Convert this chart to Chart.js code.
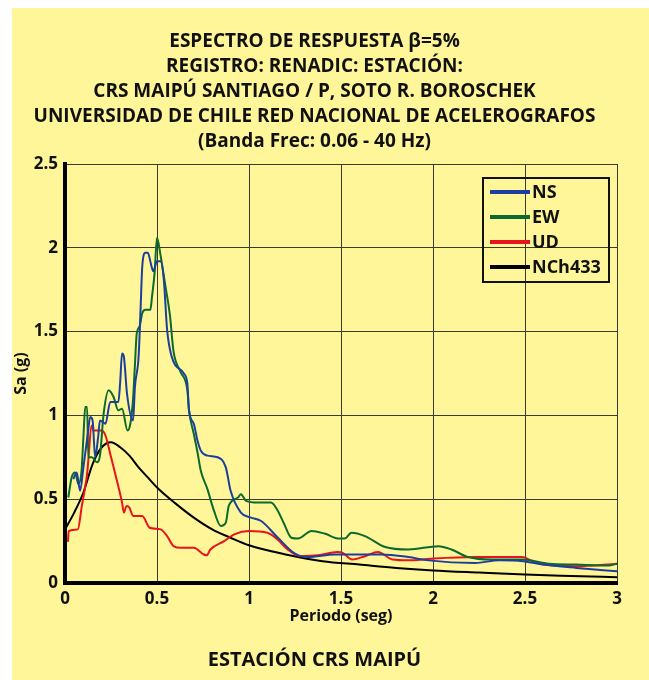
<!DOCTYPE html>
<html>
<head>
<meta charset="utf-8">
<script src="https://cdn.jsdelivr.net/npm/chart.js@4.4.1/dist/chart.umd.min.js"></script>
<style>
  html, body { margin: 0; padding: 0; background: #ffffff; }
  #wrap { width: 649px; height: 680px; }
</style>
</head>
<body>
<div id="wrap"><canvas id="espectro" width="649" height="680"></canvas></div>
<script>
// Periodos (seg) y aceleraciones espectrales Sa (g)
const nsT  = [0.045, 0.064, 0.082, 0.10, 0.125, 0.137, 0.15, 0.164, 0.18, 0.19, 0.22, 0.246, 0.29, 0.30, 0.31, 0.32, 0.337, 0.37, 0.38, 0.40, 0.41, 0.42, 0.437, 0.45, 0.47, 0.48, 0.50, 0.52, 0.537, 0.555, 0.58, 0.646, 0.665, 0.674, 0.70, 0.72, 0.738, 0.774, 0.83, 0.874, 0.90, 0.956, 1.01, 1.066, 1.157, 1.25, 1.32, 1.466, 1.61, 1.72, 1.866, 1.975, 2.23, 2.36, 2.49, 2.6, 2.78, 3.0];
const nsSa = [0.62, 0.66, 0.55, 0.69, 0.90, 0.99, 0.97, 0.75, 0.87, 0.97, 0.95, 1.08, 1.08, 1.20, 1.37, 1.35, 1.13, 0.97, 1.17, 1.35, 1.61, 1.89, 1.97, 1.97, 1.89, 1.86, 1.92, 1.92, 1.81, 1.51, 1.35, 1.25, 1.19, 1.03, 0.95, 0.85, 0.79, 0.76, 0.75, 0.69, 0.55, 0.42, 0.39, 0.37, 0.27, 0.175, 0.155, 0.17, 0.17, 0.17, 0.155, 0.135, 0.12, 0.135, 0.13, 0.11, 0.09, 0.07];

const ewT  = [0.018, 0.036, 0.055, 0.073, 0.09, 0.10, 0.11, 0.12, 0.127, 0.146, 0.173, 0.19, 0.21, 0.237, 0.264, 0.29, 0.31, 0.34, 0.355, 0.37, 0.38, 0.39, 0.405, 0.42, 0.437, 0.464, 0.473, 0.487, 0.50, 0.52, 0.546, 0.57, 0.59, 0.628, 0.665, 0.674, 0.70, 0.72, 0.738, 0.774, 0.81, 0.847, 0.874, 0.89, 0.94, 0.956, 0.984, 1.047, 1.12, 1.157, 1.19, 1.23, 1.266, 1.34, 1.41, 1.49, 1.52, 1.557, 1.63, 1.74, 1.867, 2.03, 2.10, 2.19, 2.32, 2.486, 2.63, 2.78, 2.96, 3.0];
const ewSa = [0.51, 0.63, 0.66, 0.59, 0.67, 0.87, 1.05, 1.05, 0.75, 0.75, 0.72, 0.76, 1.01, 1.15, 1.11, 1.03, 1.04, 0.91, 0.95, 1.10, 1.30, 1.49, 1.53, 1.61, 1.63, 1.63, 1.71, 1.85, 2.06, 1.95, 1.77, 1.60, 1.38, 1.26, 1.15, 1.03, 0.89, 0.78, 0.67, 0.56, 0.43, 0.34, 0.36, 0.46, 0.51, 0.53, 0.49, 0.48, 0.48, 0.43, 0.355, 0.27, 0.265, 0.31, 0.295, 0.265, 0.265, 0.30, 0.28, 0.215, 0.20, 0.22, 0.20, 0.155, 0.14, 0.14, 0.115, 0.11, 0.105, 0.115];

const udT  = [0.016, 0.02, 0.07, 0.09, 0.12, 0.146, 0.155, 0.20, 0.22, 0.246, 0.28, 0.31, 0.32, 0.335, 0.35, 0.37, 0.42, 0.46, 0.52, 0.555, 0.59, 0.63, 0.70, 0.755, 0.77, 0.79, 0.865, 0.92, 1.0, 1.1, 1.155, 1.21, 1.28, 1.375, 1.48, 1.51, 1.56, 1.63, 1.70, 1.78, 1.865, 1.99, 2.23, 2.485, 2.54, 2.6, 2.78, 3.0];
const udSa = [0.245, 0.31, 0.32, 0.45, 0.65, 0.94, 0.91, 0.91, 0.88, 0.77, 0.62, 0.48, 0.42, 0.46, 0.45, 0.40, 0.40, 0.33, 0.32, 0.28, 0.22, 0.21, 0.21, 0.17, 0.165, 0.20, 0.25, 0.29, 0.31, 0.30, 0.26, 0.20, 0.16, 0.165, 0.185, 0.18, 0.14, 0.16, 0.185, 0.14, 0.135, 0.145, 0.155, 0.155, 0.13, 0.11, 0.10, 0.115];

const nchT  = [0, 0.05, 0.1, 0.15, 0.2, 0.25, 0.3, 0.35, 0.4, 0.45, 0.5, 0.6, 0.7, 0.8, 0.9, 1.0, 1.2, 1.4, 1.6, 1.8, 2.0, 2.25, 2.5, 2.75, 3.0];
const nchSa = [0.32, 0.42, 0.54, 0.71, 0.81, 0.84, 0.81, 0.76, 0.69, 0.63, 0.57, 0.475, 0.39, 0.32, 0.27, 0.225, 0.17, 0.13, 0.11, 0.09, 0.075, 0.062, 0.05, 0.042, 0.035];

const seriesNames = ['NS', 'EW', 'UD', 'NCh433'];
const xTicks = [0, 0.5, 1, 1.5, 2, 2.5, 3];
const yTicks = [0, 0.5, 1, 1.5, 2, 2.5];

const titleLines = [
    'ESPECTRO DE RESPUESTA \u03B2=5%',
    'REGISTRO: RENADIC: ESTACIÓN:',
    'CRS MAIPÚ SANTIAGO / P, SOTO R. BOROSCHEK',
    'UNIVERSIDAD DE CHILE RED NACIONAL DE ACELEROGRAFOS',
    '(Banda Frec: 0.06 - 40 Hz)'
];

const FONT = "'Open Sans', sans-serif";

const toPoints = (xs, ys) => xs.map((x, i) => ({ x: x, y: ys[i] }));

const fondo = {
    id: 'fondo',
    beforeDraw(chart) {
        const c = chart.ctx;
        c.save();
        c.fillStyle = '#ffffff';
        c.fillRect(0, 0, chart.width, chart.height);
        c.fillStyle = '#fff69a';
        c.fillRect(12, 8, chart.width - 12, chart.height - 8);
        c.restore();
    }
};

// Leyenda dentro del area del grafico, arriba a la derecha
const leyenda = {
    id: 'leyenda',
    afterDraw(chart) {
        const c = chart.ctx;
        const a = chart.chartArea;
        const bx = a.right - 134, by = a.top + 14, bw = 126, bh = 104;
        c.save();
        c.strokeStyle = '#111';
        c.lineWidth = 2;
        c.strokeRect(bx, by, bw, bh);
        c.font = 'bold 18px ' + FONT;
        c.textBaseline = 'middle';
        chart.data.datasets.forEach((ds, i) => {
            const yy = by + 14 + i * 25;
            c.strokeStyle = ds.borderColor;
            c.lineWidth = 4;
            c.beginPath();
            c.moveTo(bx + 7, yy);
            c.lineTo(bx + 47, yy);
            c.stroke();
            c.fillStyle = '#111';
            c.fillText(ds.label, bx + 49, yy + 1);
        });
        c.restore();
    }
};

const mkSet = (label, pts, color, width) => ({
    label: label,
    data: pts,
    borderColor: color,
    backgroundColor: color,
    borderWidth: width,
    pointRadius: 0,
    showLine: true,
    fill: false,
    cubicInterpolationMode: 'monotone'
});

const fmt = (v) => String(v);

new Chart(document.getElementById('espectro').getContext('2d'), {
    type: 'scatter',
    data: {
        datasets: [
            mkSet(seriesNames[0], toPoints(nsT, nsSa), '#1c3f9e', 2),
            mkSet(seriesNames[1], toPoints(ewT, ewSa), '#0b6a2c', 2),
            mkSet(seriesNames[2], toPoints(udT, udSa), '#e8141c', 2),
            mkSet(seriesNames[3], toPoints(nchT, nchSa), '#000000', 2)
        ]
    },
    options: {
        responsive: false,
        animation: false,
        layout: { padding: { left: 12, right: 32, top: 8, bottom: 8 } },
        plugins: {
            legend: { display: false },
            tooltip: { enabled: false },
            title: {
                display: true,
                text: titleLines,
                color: '#111',
                font: { family: FONT, size: 19, weight: 'bold', lineHeight: 25 / 19 },
                padding: { top: 21, bottom: 10 }
            },
            subtitle: {
                display: true,
                position: 'bottom',
                text: 'ESTACIÓN CRS MAIPÚ',
                color: '#111',
                font: { family: FONT, size: 20, weight: 'bold' },
                padding: { top: 24, bottom: 0 }
            }
        },
        scales: {
            x: {
                type: 'linear',
                min: 0,
                max: 3,
                afterBuildTicks: (scale) => { scale.ticks = xTicks.map(v => ({ value: v })); },
                ticks: {
                    color: '#111',
                    padding: 8,
                    callback: fmt,
                    font: { family: FONT, size: 17, weight: 'bold', lineHeight: 1 }
                },
                grid: { color: '#3a3a30', lineWidth: 1, drawTicks: false },
                border: { color: '#000', width: 4 },
                title: {
                    display: true,
                    text: 'Periodo (seg)',
                    color: '#111',
                    padding: { top: -8, bottom: 0 },
                    font: { family: FONT, size: 16, weight: 'bold', lineHeight: 1 }
                }
            },
            y: {
                type: 'linear',
                min: 0,
                max: 2.5,
                afterBuildTicks: (scale) => { scale.ticks = yTicks.map(v => ({ value: v })); },
                afterFit: (scale) => { scale.width = 53; },
                ticks: {
                    color: '#111',
                    padding: 7,
                    callback: fmt,
                    font: { family: FONT, size: 17, weight: 'bold' }
                },
                grid: { color: '#3a3a30', lineWidth: 1, drawTicks: false },
                border: { color: '#000', width: 4 },
                title: {
                    display: true,
                    text: 'Sa (g)',
                    color: '#111',
                    padding: 0,
                    font: { family: FONT, size: 16, weight: 'bold' }
                }
            }
        }
    },
    plugins: [fondo, leyenda]
});
</script>
</body>
</html>
